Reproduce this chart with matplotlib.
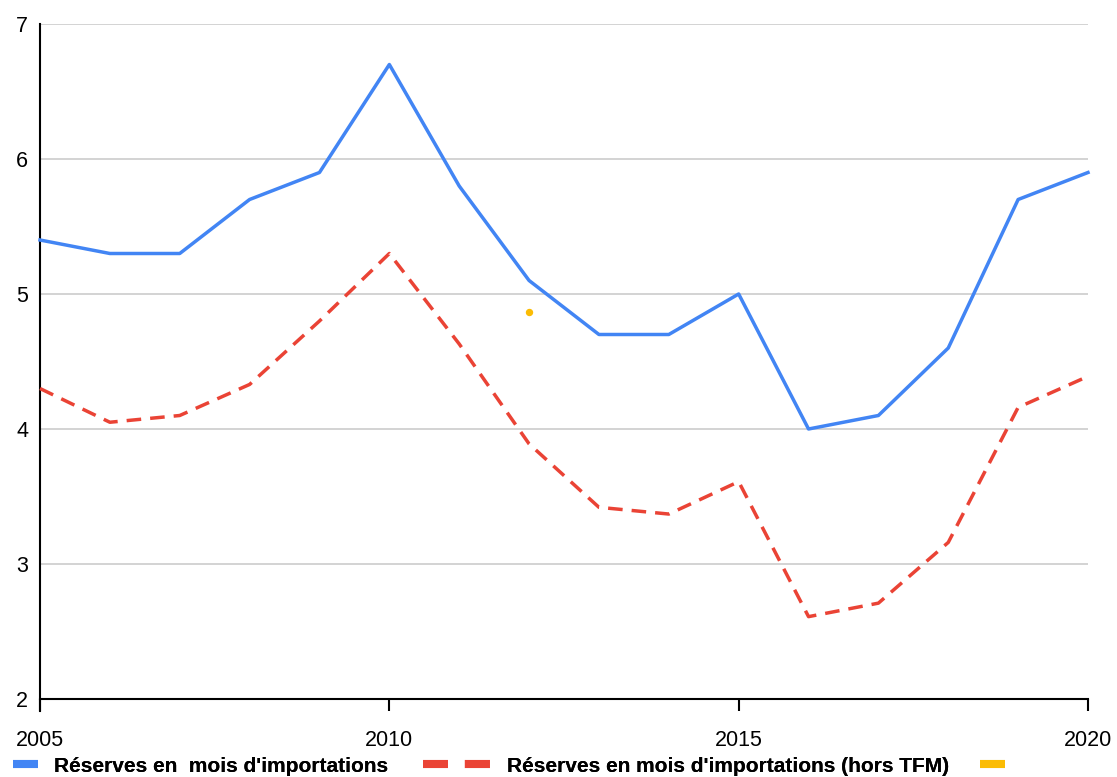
import matplotlib
matplotlib.use("Agg")
import matplotlib.pyplot as plt
from matplotlib.lines import Line2D

years = list(range(2005, 2021))
reserves = [5.4, 5.3, 5.3, 5.7, 5.9, 6.7, 5.8, 5.1, 4.7, 4.7, 5.0, 4.0, 4.1, 4.6, 5.7, 5.9]
reserves_hors_tfm = [4.3, 4.05, 4.1, 4.33, 4.8, 5.3, 4.63, 3.89, 3.42, 3.37, 3.61, 2.61, 2.71, 3.16, 4.16, 4.39]
third_x = [2012]
third_y = [4.87]

x_ticks = [2005, 2010, 2015, 2020]
y_ticks = [2, 3, 4, 5, 6, 7]

label_blue = "Réserves en  mois d'importations"
label_red = "Réserves en mois d'importations (hors TFM)"

plt.rcParams['font.family'] = ['Liberation Sans', 'DejaVu Sans']

W, H = 1117, 777
fig = plt.figure(figsize=(W / 100, H / 100), dpi=100)
ax = fig.add_axes([40 / W, 1 - 699 / H, 1048 / W, 675 / H])

blue = '#4285f4'
red = '#ea4335'
yellow = '#fbbc04'

ax.plot(years, reserves, color=blue, linewidth=2.5, clip_on=False, zorder=3)
ax.plot(years, reserves_hors_tfm, color=red, linewidth=2.5, dashes=(4.2, 2.6), clip_on=False, zorder=3)
ax.plot(third_x, third_y, 'o', color=yellow, markersize=4.3, zorder=3)

ax.set_xlim(2005, 2020)
ax.set_ylim(2, 7)
ax.set_xticks(x_ticks)
ax.set_yticks(y_ticks)
ax.tick_params(axis='x', length=8.6, width=1.5, color='black', labelsize=15.5, pad=14)
ax.tick_params(axis='y', length=0, labelsize=15.5, pad=8.5)
ax.grid(axis='y', color='#cccccc', linewidth=1.2)
ax.set_axisbelow(True)

for s in ['top', 'right']:
    ax.spines[s].set_visible(False)
ax.spines['left'].set_linewidth(1.5)
ax.spines['bottom'].set_linewidth(1.5)
ax.spines['left'].set_bounds(1.91, 7)

# legend: three entries placed like the original (one legend each)
fs = 15
fs_px = fs * 100 / 72
y_leg = 1 - 766 / H
entries = [
    (Line2D([0], [0], color=blue, linewidth=5.8, solid_capstyle='butt'), label_blue, 13, 25),
    (Line2D([0], [0], color=red, linewidth=5.8, dashes=(3.1, 2.1), dash_capstyle='butt'), label_red, 423, 68),
    (Line2D([0], [0], color=yellow, linewidth=5.8, solid_capstyle='butt'), "", 980, 25),
]
for handle, text, x0, hl in entries:
    leg = fig.legend([handle], [text], loc='center left', bbox_to_anchor=(x0 / W, y_leg),
                     frameon=False, prop={'size': fs, 'weight': 'bold'},
                     borderpad=0, borderaxespad=0,
                     handlelength=hl / fs_px, handletextpad=16 / fs_px)
    fig.add_artist(leg)

fig.savefig('out.png', dpi=100)
